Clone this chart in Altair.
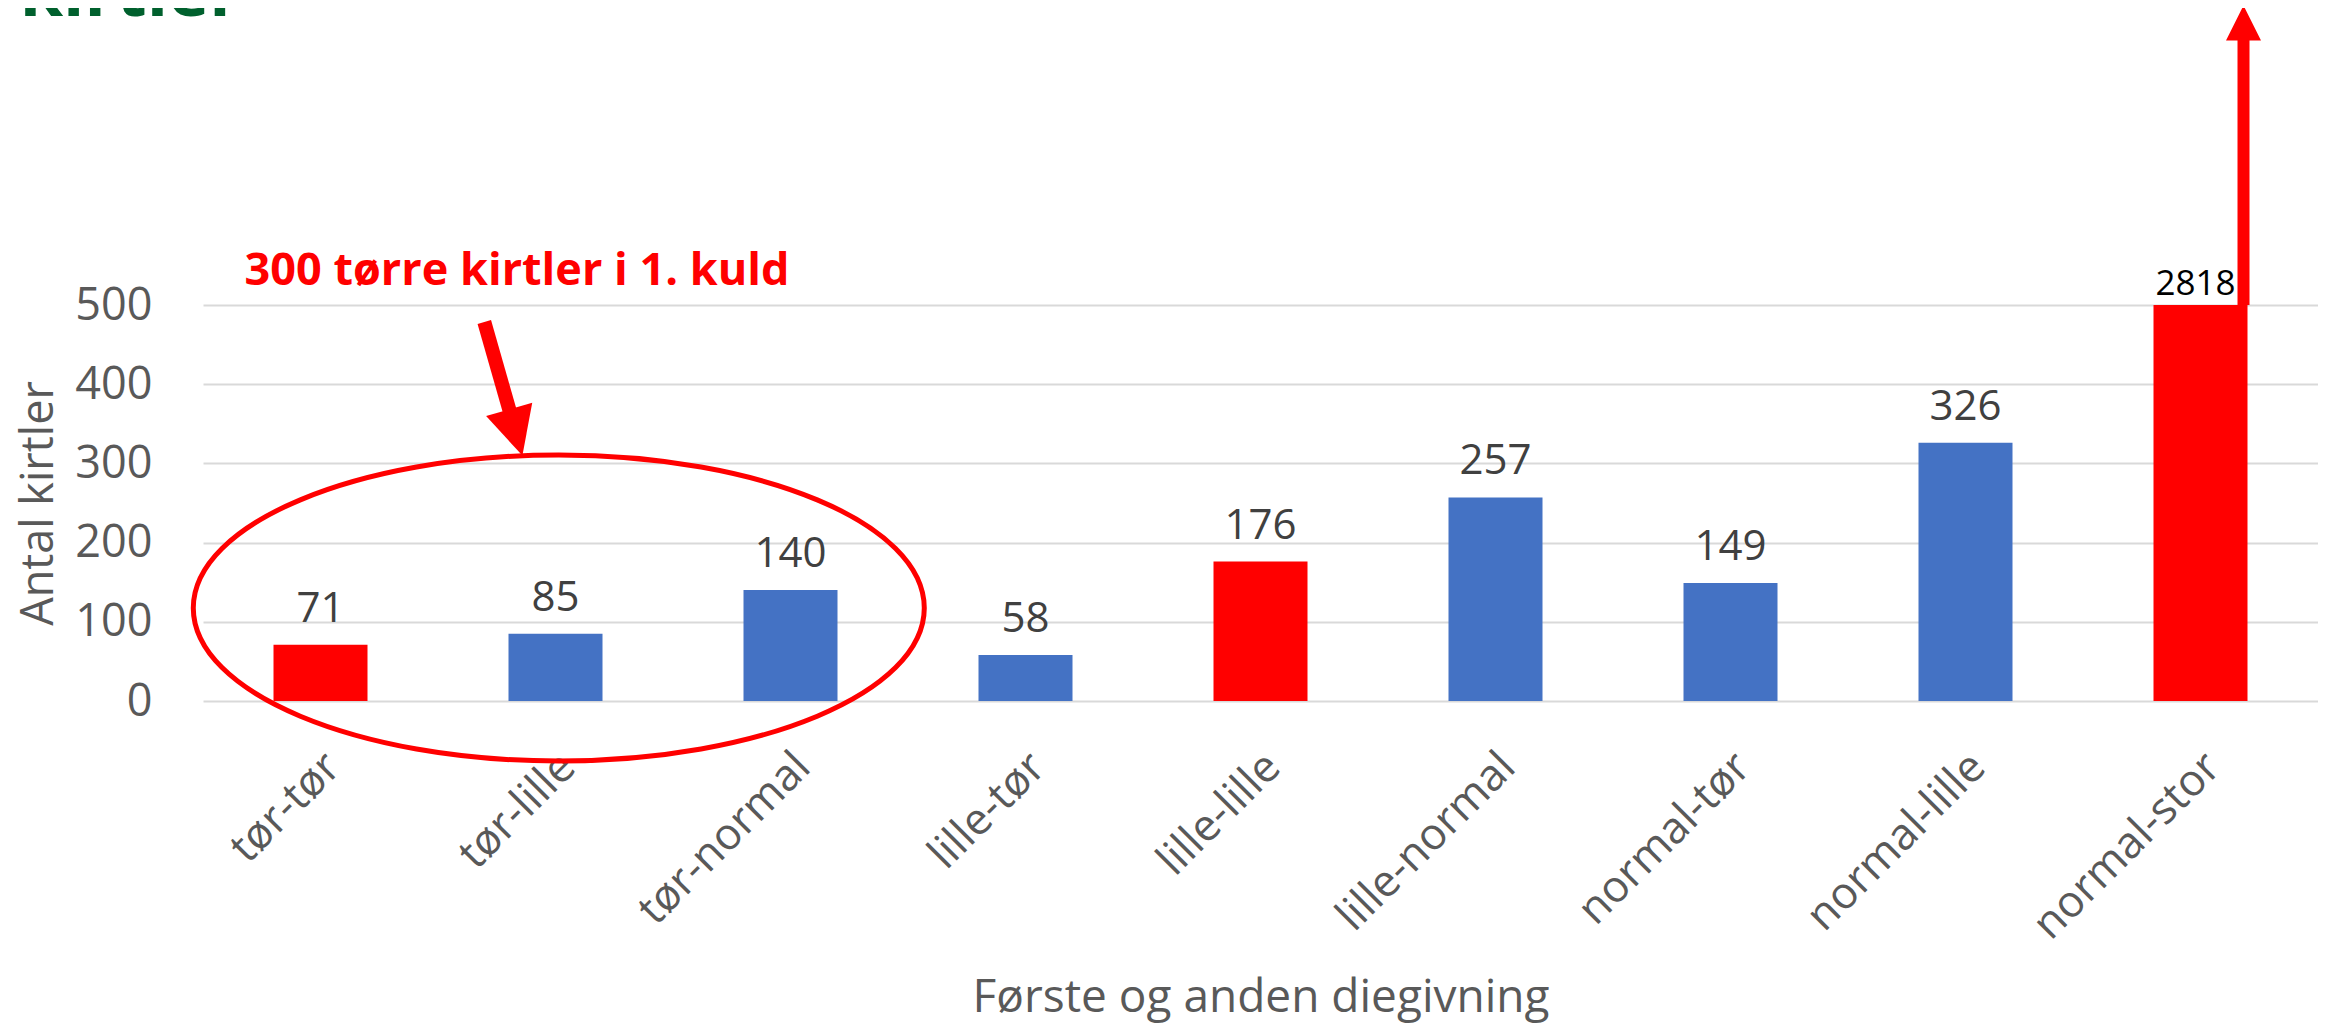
import altair as alt
import pandas as pd

# ---------------- data ----------------
CATEGORIES = ["tør-tør", "tør-lille", "tør-normal", "lille-tør", "lille-lille",
              "lille-normal", "normal-tør", "normal-lille", "normal-stor"]
COUNTS = [71, 85, 140, 58, 176, 257, 149, 326, 2818]
GROUPS = ["samme", "skift", "skift", "skift", "samme", "skift", "skift", "skift", "samme"]
Y_MAX = 500
Y_TICK_COUNT = 5

X_TITLE = "Første og anden diegivning"
Y_TITLE = "Antal kirtler"
NOTE_TEXT = ["300 tørre kirtler i 1. kuld"]
HEADER_TEXT = ["kirtler"]

# annotation anchors: x in category-index units (0..9), y in data units
NOTE_U, NOTE_V = [0.177], [525]
ELLIPSE_U, ELLIPSE_V = [1.514], [117.4]
DIAG_U, DIAG_V, DIAG_U2, DIAG_V2 = [1.197], [478.5], [1.316], [354.8]
DIAG_HEAD_U, DIAG_HEAD_V = [1.331], [339.0]
UP_U, UP_V, UP_V2 = [8.683], [500], [834.6]
UP_HEAD_U, UP_HEAD_V = [8.683], [856]
HEADER_U, HEADER_V = [-0.78], [865]

RED = "#ff0000"
BLUE = "#4472c4"
GREY = "#595959"
FONT = "Open Sans"

df = pd.DataFrame({"kategori": CATEGORIES, "antal": COUNTS, "gruppe": GROUPS})

W, H = 2115, 396

band = alt.Scale(type="band", domain=CATEGORIES, paddingInner=0.6, paddingOuter=0.3, round=False)
yscale = alt.Scale(domain=[0, Y_MAX], nice=False, zero=True)
uscale = alt.Scale(domain=[0, len(CATEGORIES)], nice=False, zero=False)

x_axis = alt.Axis(
    title=X_TITLE, labelAngle=315, labelAlign="right", labelBaseline="middle",
    labelFont=FONT, labelFontSize=44, labelColor=GREY, labelPadding=59, labelOffset=13,
    labelLimit=0, labelOverlap=False, domain=False, ticks=False, grid=False,
    titleFont=FONT, titleFontSize=46, titleColor=GREY, titleFontWeight="normal",
    titleX=W / 2, titleY=310, titleBaseline="alphabetic", titleAlign="center",
)
# the same axis definition is given to every layer that shares the y scale
y_axis = alt.Axis(
    title=Y_TITLE, tickCount=Y_TICK_COUNT, grid=True, gridColor="#d9d9d9", gridWidth=2,
    domain=False, ticks=False, labelFont=FONT, labelFontSize=45, labelColor=GREY,
    labelPadding=51, titleFont=FONT, titleFontSize=45, titleColor=GREY,
    titleFontWeight="normal", titlePadding=13,
)


def yq(field):
    return alt.Y(f"{field}:Q", scale=yscale, axis=y_axis)


base = alt.Chart(df)

bars = base.transform_calculate(vis=f"min(datum.antal, {Y_MAX})").mark_bar().encode(
    x=alt.X("kategori:N", scale=band, axis=x_axis, sort=CATEGORIES),
    y=yq("vis"),
    color=alt.Color("gruppe:N", scale=alt.Scale(domain=["samme", "skift"], range=[RED, BLUE]), legend=None),
)

labels = base.transform_filter(f"datum.antal <= {Y_MAX}").mark_text(
    font=FONT, fontSize=42, color="#404040", baseline="alphabetic", dy=-23
).encode(
    x=alt.X("kategori:N", scale=band, axis=None, sort=CATEGORIES),
    y=yq("antal"),
    text="antal:Q",
)

over_labels = base.transform_filter(f"datum.antal > {Y_MAX}").transform_calculate(
    vis=f"min(datum.antal, {Y_MAX})"
).mark_text(font=FONT, fontSize=35, color="#000000", baseline="alphabetic", dy=-10, dx=-5).encode(
    x=alt.X("kategori:N", scale=band, axis=None, sort=CATEGORIES),
    y=yq("vis"),
    text="antal:Q",
)


def ux(field="u"):
    return alt.X(f"{field}:Q", scale=uscale, axis=None)


note = alt.Chart(pd.DataFrame({"u": NOTE_U, "v": NOTE_V, "t": NOTE_TEXT})).mark_text(
    font=FONT, fontSize=45, fontWeight="bold", color=RED, align="left", baseline="alphabetic"
).encode(x=ux(), y=yq("v"), text="t:N")

header = alt.Chart(pd.DataFrame({"u": HEADER_U, "v": HEADER_V, "t": HEADER_TEXT})).mark_text(
    font=FONT, fontSize=70, fontWeight="bold", color="#00602d", align="left", baseline="alphabetic"
).encode(x=ux(), y=yq("v"), text="t:N")

ELLIPSE_PATH = "M-1,0A1,0.4186 0 1,0 1,0A1,0.4186 0 1,0 -1,0Z"
ellipse = alt.Chart(pd.DataFrame({"u": ELLIPSE_U, "v": ELLIPSE_V})).mark_point(
    shape=ELLIPSE_PATH, size=731 ** 2, filled=False, color=RED, strokeWidth=5, opacity=1
).encode(x=ux(), y=yq("v"))

diag_shaft = alt.Chart(pd.DataFrame({"u": DIAG_U, "v": DIAG_V, "u2": DIAG_U2, "v2": DIAG_V2})).mark_rule(
    color=RED, strokeWidth=14, strokeCap="butt"
).encode(x=ux(), y=yq("v"), x2="u2:Q", y2="v2:Q")

diag_head = alt.Chart(pd.DataFrame({"u": DIAG_HEAD_U, "v": DIAG_HEAD_V})).mark_point(
    shape="M0,1L-1,-1L1,-1Z", size=48 ** 2, angle=344, filled=True, color=RED, opacity=1
).encode(x=ux(), y=yq("v"))

up_shaft = alt.Chart(pd.DataFrame({"u": UP_U, "v": UP_V, "v2": UP_V2})).mark_rule(
    color=RED, strokeWidth=12, strokeCap="butt"
).encode(x=ux(), y=yq("v"), y2="v2:Q")

up_head = alt.Chart(pd.DataFrame({"u": UP_HEAD_U, "v": UP_HEAD_V})).mark_point(
    shape="M0,-1L1,1L-1,1Z", size=35 ** 2, filled=True, color=RED, opacity=1
).encode(x=ux(), y=yq("v"))

chart = alt.layer(
    bars, labels, over_labels, ellipse, diag_shaft, diag_head, up_shaft, up_head, note, header
).resolve_scale(x="independent").properties(
    width=W, height=H,
    padding={"left": 195, "top": 297, "right": 0, "bottom": 324},
    autosize=alt.AutoSizeParams(type="none"),
    background="white",
).configure_view(stroke=None)

chart.save("out.html", embed_options={"renderer": "svg", "actions": False})
